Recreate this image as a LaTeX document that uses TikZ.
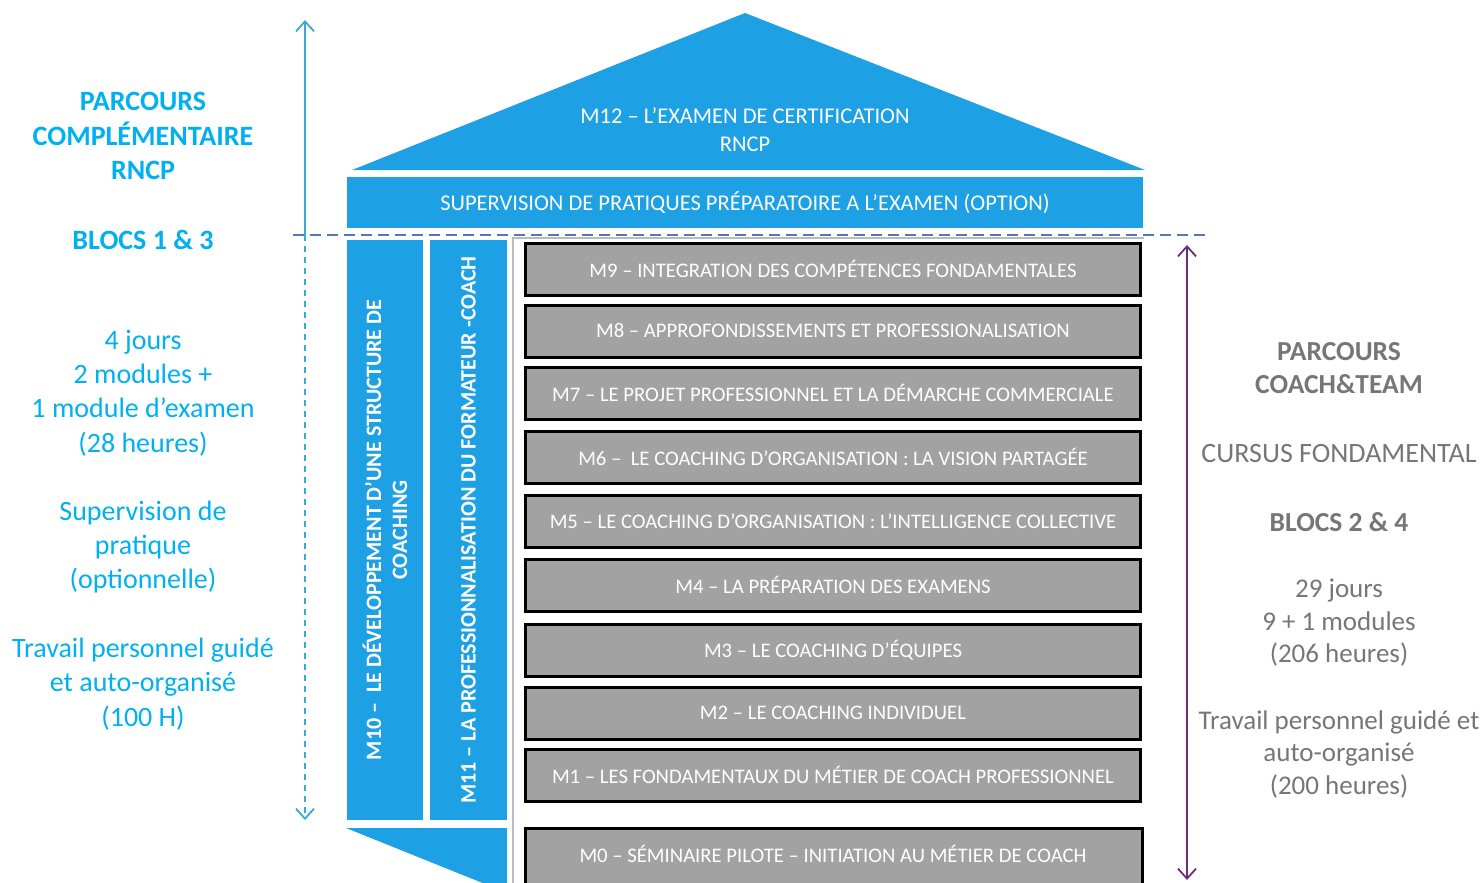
\documentclass[tikz,border=0pt]{standalone}
\usepackage{fontspec}
\setmainfont{Carlito}
\usetikzlibrary{arrows.meta}
\definecolor{roofblue}{HTML}{1DA0E4}
\definecolor{txtblue}{HTML}{00B0F0}
\definecolor{txtgrey}{HTML}{767676}
\definecolor{boxgrey}{HTML}{A2A2A2}
\definecolor{dashblue}{HTML}{5577B8}
\definecolor{arrowcyan}{HTML}{3AA9D6}
\definecolor{arrowpurple}{HTML}{6B2F77}
\definecolor{framegrey}{HTML}{B4BCCC}
\tikzset{
  modbox/.style={draw=black, line width=3pt, fill=boxgrey, minimum width=615pt, minimum height=52pt, inner sep=0pt, text=white, font=\fontsize{20.7}{22}\selectfont},
  modtext/.style={inner sep=0pt, text=white, font=\fontsize{20.7}{22}\selectfont},
  bluebar/.style={fill=roofblue, inner sep=0pt, text=white, font=\fontsize{22.5}{28}\selectfont, align=center},
  colbar/.style={fill=roofblue, inner sep=0pt, text=white, rotate=90, align=center, font=\bfseries\fontsize{22}{26}\selectfont},
  lefttxt/.style={text=txtblue, align=center, inner sep=0pt, font=\fontsize{28}{34.3}\selectfont},
  righttxt/.style={text=txtgrey, align=center, inner sep=0pt, font=\fontsize{27}{32.5}\selectfont},
  barb/.tip={Straight Barb[length=10pt,width=18pt,line width=1.8pt]}
}
\begin{document}
\begin{tikzpicture}[x=1pt,y=-1pt]
\useasboundingbox (0,0) rectangle (1483,883);
\clip (0,0) rectangle (1483,883);
% roof
\fill[roofblue] (352,170) -- (745,13) -- (1145,170) -- cycle;
\node[bluebar, fill=none] (m12) at (745,130) {M12 – L’EXAMEN DE CERTIFICATION\\RNCP};
% supervision bar
\node[bluebar, minimum width=796pt, minimum height=51pt] (sup) at (745,202.5) {SUPERVISION DE PRATIQUES PRÉPARATOIRE A L’EXAMEN (OPTION)};
% frame
\coordinate (fa) at (513,883);
\coordinate (fb) at (513,238);
\coordinate (fc) at (1144,238);
\draw[framegrey, line width=1.5pt] (fa) -- (fb) -- (fc);
% columns
\node[colbar, minimum width=580pt, minimum height=76pt] (m10) at (385,530) {M10 –\ \ LE DÉVELOPPEMENT D’UNE STRUCTURE DE\\COACHING};
\node[colbar, minimum width=580pt, minimum height=77pt] (m11) at (468.5,530) {M11 – LA PROFESSIONNALISATION DU FORMATEUR -COACH};
\fill[roofblue] (346,828) -- (507,828) -- (507,890) -- (500,890) -- cycle;
% modules
\node[modbox] (m9) at (833,269) {M9 – INTEGRATION DES COMPÉTENCES FONDAMENTALES};
\node[modbox] (m8) at (833,331) {M8 – APPROFONDISSEMENTS ET PROFESSIONALISATION};
\node[modbox] (m7) at (833,393) {M7 – LE PROJET PROFESSIONNEL ET LA DÉMARCHE COMMERCIALE};
\node[modbox] (m6) at (833,457) {M6 –\ \ LE COACHING D’ORGANISATION : LA VISION PARTAGÉE};
\node[modbox] (m5) at (833,521) {M5 – LE COACHING D’ORGANISATION : L’INTELLIGENCE COLLECTIVE};
\node[modbox] (m4) at (833,585) {M4 – LA PRÉPARATION DES EXAMENS};
\node[modbox] (m3) at (833,650) {M3 – LE COACHING D’ÉQUIPES};
\node[modbox] (m2) at (833,713) {M2 – LE COACHING INDIVIDUEL};
\node[modbox] (m1) at (833,775) {M1 – LES FONDAMENTAUX DU MÉTIER DE COACH PROFESSIONNEL};
\draw[draw=black, line width=3pt, fill=boxgrey] (525,828) rectangle (1142,900);
\node[modtext] (m0) at (833,854) {M0 – SÉMINAIRE PILOTE – INITIATION AU MÉTIER DE COACH};
% dashed separator
\coordinate (hl) at (293,235);
\coordinate (hr) at (1205,235);
\draw[dashblue, line width=2.5pt, dash pattern=on 11pt off 6pt] (hl) -- (hr);
% left arrow
\coordinate (lat) at (305,20);
\coordinate (lam) at (305,235);
\coordinate (lab) at (305,820);
\draw[arrowcyan, line width=1.8pt, -{barb}] (lam) -- (lat);
\draw[arrowcyan, line width=1.8pt, dash pattern=on 6pt off 5pt, -{barb}] (lam) -- (lab);
% right arrow
\coordinate (rat) at (1187,245);
\coordinate (rab) at (1187,880);
\draw[arrowpurple, line width=2pt, {barb}-{barb}] (rat) -- (rab);
% left texts
\node[lefttxt, font=\bfseries\fontsize{28}{34.3}\selectfont] (lt1) at (143,136) {PARCOURS\\COMPLÉMENTAIRE\\RNCP};
\node[lefttxt, font=\bfseries\fontsize{28}{34.3}\selectfont] (lt2) at (143,240) {BLOCS 1 \& 3};
\node[lefttxt] (lt3) at (143,393) {4 jours\\2 modules +\\1 module d’examen\\(28 heures)};
\node[lefttxt] (lt4) at (143,547) {Supervision de\\pratique\\(optionnelle)};
\node[lefttxt] (lt5) at (143,684) {Travail personnel guidé\\et auto-organisé\\(100 H)};
% right texts
\node[righttxt, font=\bfseries\fontsize{27.5}{32.5}\selectfont] (rt1) at (1339,368) {PARCOURS\\COACH\&TEAM};
\node[righttxt, font=\fontsize{28}{32.5}\selectfont] (rt2) at (1339,454) {CURSUS FONDAMENTAL};
\node[righttxt, font=\bfseries\fontsize{27.5}{32.5}\selectfont] (rt3) at (1339,522) {BLOCS 2 \& 4};
\node[righttxt] (rt4) at (1339,623) {29 jours\\9 + 1 modules\\(206 heures)};
\node[righttxt] (rt5) at (1339,754) {Travail personnel guidé et\\auto-organisé\\(200 heures)};
\end{tikzpicture}
\end{document}
